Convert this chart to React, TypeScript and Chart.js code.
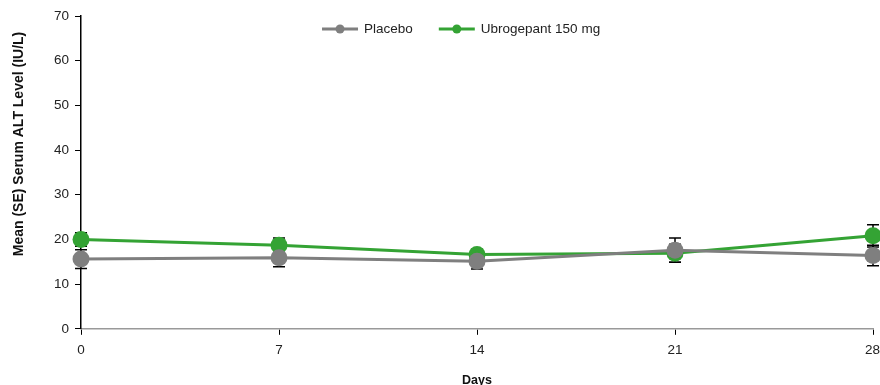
import React, { useEffect, useRef } from "react";
import { Chart, registerables } from "chart.js";

Chart.register(...registerables);

const days = [0, 7, 14, 21, 28];
const placeboMean = [15.6, 15.9, 15.1, 17.6, 16.4];
const placeboSE = [2.1, 2.0, 1.7, 2.7, 2.3];
const ubroMean = [20.0, 18.7, 16.6, 16.9, 20.8];
const ubroSE = [1.5, 1.6, 1.2, 2.0, 2.5];

const seriesNames = ["Placebo", "Ubrogepant 150 mg"];
const yTicks = [0, 10, 20, 30, 40, 50, 60, 70];
const yTitle = "Mean (SE) Serum ALT Level (IU/L)";
const xTitle = "Days";

const GREY = "#7f7f7f";
const GREEN = "#34a334";
const FONT = "Liberation Sans, Arial, sans-serif";

const errorBars = {
  id: "errorBars",
  beforeDatasetsDraw(chart: any) {
    const ctx = chart.ctx;
    const ys = chart.scales.y;
    const xs = chart.scales.x;
    const seList = [placeboSE, ubroSE];
    const meanList = [placeboMean, ubroMean];
    ctx.save();
    ctx.strokeStyle = "#000";
    ctx.lineWidth = 1.5;
    for (let s = 0; s < 2; s++) {
      for (let i = 0; i < days.length; i++) {
        const x = xs.getPixelForValue(days[i]);
        const top = ys.getPixelForValue(meanList[s][i] + seList[s][i]);
        const bot = ys.getPixelForValue(meanList[s][i] - seList[s][i]);
        ctx.beginPath();
        ctx.moveTo(x, top);
        ctx.lineTo(x, bot);
        ctx.moveTo(x - 6, top);
        ctx.lineTo(x + 6, top);
        ctx.moveTo(x - 6, bot);
        ctx.lineTo(x + 6, bot);
        ctx.stroke();
      }
    }
    ctx.restore();
  },
};

const customText = {
  id: "customText",
  afterDraw(chart: any) {
    const ctx = chart.ctx;
    const ca = chart.chartArea;
    const xs = chart.scales.x;

    // x tick labels (kept inside the canvas)
    ctx.save();
    ctx.font = `13.5px ${FONT}`;
    ctx.fillStyle = "#222";
    ctx.textBaseline = "top";
    ctx.textAlign = "center";
    for (const d of days) {
      const label = String(d);
      const w = ctx.measureText(label).width;
      let cx = xs.getPixelForValue(d);
      cx = Math.min(cx, chart.width - w / 2);
      ctx.fillText(label, cx, ca.bottom + 15);
    }
    ctx.restore();

    // y title
    ctx.save();
    ctx.translate(19, 144);
    ctx.rotate(-Math.PI / 2);
    ctx.font = `bold 14px ${FONT}`;
    ctx.fillStyle = "#111";
    ctx.textAlign = "center";
    ctx.textBaseline = "middle";
    ctx.fillText(yTitle, 0, 0);
    ctx.restore();

    // legend
    ctx.save();
    ctx.font = `13.5px ${FONT}`;
    ctx.textBaseline = "middle";
    ctx.textAlign = "left";
    const colors = [GREY, GREEN];
    let x = ca.left + 241;
    const y = ca.top + 13;
    for (let i = 0; i < seriesNames.length; i++) {
      ctx.strokeStyle = colors[i];
      ctx.lineWidth = 3;
      ctx.beginPath();
      ctx.moveTo(x, y);
      ctx.lineTo(x + 36, y);
      ctx.stroke();
      ctx.fillStyle = colors[i];
      ctx.beginPath();
      ctx.arc(x + 18, y, 4.5, 0, Math.PI * 2);
      ctx.fill();
      ctx.fillStyle = "#222";
      ctx.fillText(seriesNames[i], x + 42, y);
      x += 42 + ctx.measureText(seriesNames[i]).width + 26;
    }
    ctx.restore();
  },
};

export default function App() {
  const ref = useRef<HTMLCanvasElement>(null);
  useEffect(() => {
    document.body.style.margin = "0";
    const chart = new Chart(ref.current!, {
      type: "line",
      data: {
        datasets: [
          {
            label: seriesNames[0],
            data: days.map((d, i) => ({ x: d, y: placeboMean[i] })),
            borderColor: GREY,
            backgroundColor: GREY,
            borderWidth: 3,
            pointRadius: 8.5,
            pointHoverRadius: 8.5,
            pointBorderWidth: 0,
            tension: 0,
          },
          {
            label: seriesNames[1],
            data: days.map((d, i) => ({ x: d, y: ubroMean[i] })),
            borderColor: GREEN,
            backgroundColor: GREEN,
            borderWidth: 3,
            pointRadius: 8.5,
            pointHoverRadius: 8.5,
            pointBorderWidth: 0,
            tension: 0,
          },
        ],
      },
      options: {
        responsive: false,
        animation: false,
        clip: false as any,
        layout: { autoPadding: false, padding: { top: 16, right: 7, left: 48, bottom: -3 } } as any,
        plugins: {
          tooltip: { enabled: false },
          legend: { display: false },
        },
        scales: {
          x: {
            type: "linear",
            min: 0,
            max: 28,
            afterBuildTicks: (ax: any) => {
              ax.ticks = days.map((v) => ({ value: v }));
            },
            afterFit: (ax: any) => {
              ax.paddingRight = 0;
              ax.paddingLeft = 0;
            },
            ticks: {
              color: "rgba(0,0,0,0)",
              font: { family: FONT, size: 13.5 },
              padding: 6,
            },
            grid: { drawOnChartArea: false, drawTicks: true, tickLength: 6, color: "#000" },
            border: { color: "#999", width: 1.5 },
            title: {
              display: true,
              text: xTitle,
              color: "#111",
              font: { family: FONT, size: 12.5, weight: "bold" },
              padding: { top: 10, bottom: 0 },
            },
          },
          y: {
            min: 0,
            max: 70,
            afterBuildTicks: (ax: any) => {
              ax.ticks = yTicks.map((v) => ({ value: v }));
            },
            ticks: {
              color: "#222",
              font: { family: FONT, size: 13.5 },
              padding: 6,
            },
            grid: { drawOnChartArea: false, drawTicks: true, tickLength: 6, color: "#000" },
            border: { color: "#000", width: 1.5 },
          },
        },
      },
      plugins: [errorBars, customText],
    });
    return () => chart.destroy();
  }, []);
  return (
    <div style={{ width: 880, height: 385 }}>
      <canvas ref={ref} width={880} height={385} style={{ display: "block" }} />
    </div>
  );
}
